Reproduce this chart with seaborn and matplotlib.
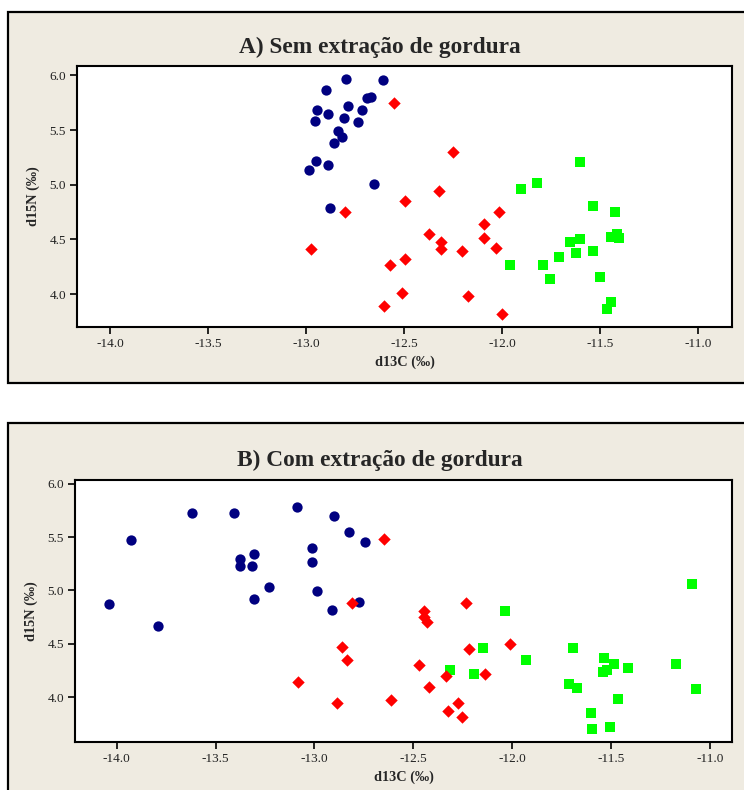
import pandas as pd
import numpy as np
import matplotlib
matplotlib.use("Agg")
import matplotlib.pyplot as plt
from matplotlib.patches import Rectangle
import seaborn as sns

# Panel A - sem extração de gordura
a_blue_x = [-12.794, -12.607, -12.896, -12.69, -12.67, -12.944, -12.786, -12.886, -12.716, -12.956,
            -12.806, -12.735, -12.835, -12.818, -12.857, -12.947, -12.886, -12.985, -12.655, -12.876]
a_blue_y = [5.97, 5.954, 5.863, 5.79, 5.80, 5.683, 5.72, 5.646, 5.683, 5.579,
            5.613, 5.576, 5.49, 5.433, 5.381, 5.22, 5.183, 5.131, 5.006, 4.79]
a_red_x = [-12.553, -12.252, -12.323, -12.493, -12.801, -12.015, -12.092, -12.371, -12.311, -12.311,
           -12.092, -12.032, -12.204, -12.973, -12.493, -12.573, -12.512, -12.172, -12.602, -12.002]
a_red_y = [5.747, 5.299, 4.945, 4.854, 4.747, 4.747, 4.640, 4.552, 4.473, 4.409,
           4.512, 4.424, 4.390, 4.409, 4.320, 4.262, 4.015, 3.982, 3.890, 3.817]
a_green_x = [-11.602, -11.823, -11.900, -11.534, -11.422, -11.412, -11.443, -11.402, -11.651, -11.601,
             -11.624, -11.534, -11.711, -11.961, -11.791, -11.752, -11.50, -11.442, -11.461]
a_green_y = [5.21, 5.015, 4.96, 4.802, 4.747, 4.551, 4.518, 4.511, 4.481, 4.50,
             4.372, 4.39, 4.338, 4.262, 4.262, 4.14, 4.159, 3.924, 3.869]

# Panel B - com extração de gordura
b_blue_x = [-14.038, -13.928, -13.792, -13.621, -13.406, -13.089, -12.902, -12.823, -12.744, -13.010,
            -13.010, -13.375, -13.375, -13.305, -13.315, -13.228, -13.305, -12.989, -12.773, -12.912]
b_blue_y = [4.869, 5.472, 4.666, 5.728, 5.728, 5.784, 5.694, 5.547, 5.453, 5.40,
            5.269, 5.291, 5.231, 5.344, 5.231, 5.031, 4.922, 4.994, 4.888, 4.813]
b_red_x = [-12.648, -12.811, -12.445, -12.445, -12.433, -12.236, -12.011, -12.217, -12.859, -12.835,
           -12.473, -13.085, -12.337, -12.138, -12.423, -12.888, -12.613, -12.275, -12.325, -12.255]
b_red_y = [5.484, 4.884, 4.809, 4.75, 4.706, 4.878, 4.494, 4.456, 4.472, 4.347,
           4.306, 4.141, 4.197, 4.216, 4.091, 3.941, 3.978, 3.941, 3.869, 3.813]
b_green_x = [-11.090, -12.039, -12.147, -11.693, -11.930, -12.315, -12.196, -11.536, -11.487, -11.416,
             -11.544, -11.524, -11.171, -11.713, -11.674, -11.072, -11.466, -11.603, -11.595, -11.506]
b_green_y = [5.06, 4.806, 4.457, 4.457, 4.35, 4.256, 4.219, 4.363, 4.31, 4.272,
             4.234, 4.253, 4.31, 4.128, 4.09, 4.075, 3.979, 3.848, 3.701, 3.72]

titles = ["A) Sem extração de gordura", "B) Com extração de gordura"]
x_ticks = [-14.0, -13.5, -13.0, -12.5, -12.0, -11.5, -11.0]
y_ticks = [4.0, 4.5, 5.0, 5.5, 6.0]

BG = "#efebe1"


def make_df(bx, by, rx, ry, gx, gy):
    parts = []
    for name, xs, ys in [("blue", bx, by), ("green", gx, gy), ("red", rx, ry)]:
        parts.append(pd.DataFrame({"x": xs, "y": ys, "grupo": name}))
    return pd.concat(parts, ignore_index=True)


def draw_panel(fig, ax, df, title, title_y, xlim, ylim):
    styles = {"blue": ("#000080", "o", 55), "green": ("#00ff00", "s", 48), "red": ("#ff0000", "D", 40)}
    for name in ["blue", "green", "red"]:
        color, marker, size = styles[name]
        sub = df[df["grupo"] == name]
        sns.scatterplot(data=sub, x="x", y="y", ax=ax, color=color, marker=marker,
                        s=size, linewidth=0, legend=False, zorder=3)
    ax.set_xlim(*xlim)
    ax.set_ylim(*ylim)
    ax.set_xticks(x_ticks)
    ax.set_yticks(y_ticks)
    ax.set_xticklabels([f"{t:.1f}" for t in x_ticks])
    ax.set_yticklabels([f"{t:.1f}" for t in y_ticks])
    ax.set_facecolor("white")
    for sp in ax.spines.values():
        sp.set_visible(True)
        sp.set_color("black")
        sp.set_linewidth(1.5)
    ax.tick_params(direction="out", length=5, width=1.2, labelsize=9.5, colors="black",
                   labelcolor="#222222", pad=3, left=True, bottom=True)
    for lab in ax.get_xticklabels() + ax.get_yticklabels():
        lab.set_fontfamily("Liberation Serif")
    ax.set_xlabel("d13C (‰)", fontsize=10.3, fontweight="bold", family="Liberation Serif", labelpad=4)
    ax.set_ylabel("d15N (‰)", fontsize=10.3, fontweight="bold", family="Liberation Serif", labelpad=7)
    ax.grid(False)
    fig.text(0.51, title_y, title, ha="center", va="center", fontsize=16.8,
             fontweight="bold", family="Liberation Serif", zorder=5)


def main():
    sns.set_style("white")
    fig = plt.figure(figsize=(7.44, 7.90), dpi=100)
    W, H = 744, 790

    # beige frames behind each panel
    for top, bottom in [(12, 383), (423, 820)]:
        fig.patches.append(Rectangle((8 / W, 1 - bottom / H), 800 / W, (bottom - top) / H,
                                     transform=fig.transFigure, facecolor=BG, edgecolor="black",
                                     linewidth=1.6, zorder=-5))

    ax1 = fig.add_axes([77 / W, 1 - 327 / H, 655 / W, 261 / H], zorder=2)
    ax2 = fig.add_axes([75 / W, 1 - 742 / H, 657 / W, 262 / H], zorder=2)

    df_a = make_df(a_blue_x, a_blue_y, a_red_x, a_red_y, a_green_x, a_green_y)
    df_b = make_df(b_blue_x, b_blue_y, b_red_x, b_red_y, b_green_x, b_green_y)

    draw_panel(fig, ax1, df_a, titles[0], 1 - 47 / H, (-14.17, -10.825), (3.70, 6.085))
    draw_panel(fig, ax2, df_b, titles[1], 1 - 460 / H, (-14.21, -10.89), (3.58, 6.035))

    plt.savefig("out.png", dpi=100, facecolor="white")


if __name__ == '__main__':
    main()
